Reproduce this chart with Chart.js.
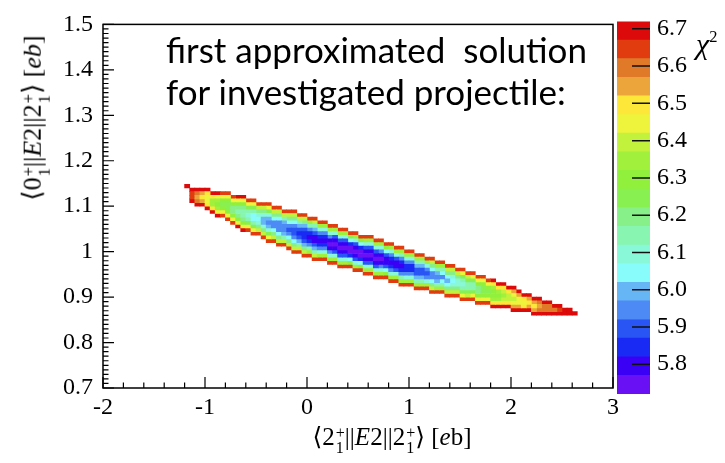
<!DOCTYPE html>
<html>
<head>
<meta charset="utf-8">
<script src="https://cdn.jsdelivr.net/npm/chart.js@4.4.1/dist/chart.umd.min.js"></script>
<style>
  html, body { margin: 0; padding: 0; background: #fff; }
  #wrap { position: relative; width: 725px; height: 463px; overflow: hidden; }
  #main { position: absolute; left: 0; top: 0; }
  #cbar { position: absolute; left: 600px; top: 0; }
  .note { position: absolute; left: 166px; font-family: Lato, 'Open Sans', sans-serif; font-size: 35px; line-height: 1; white-space: pre; color: #000; }
  .math { position: absolute; font-family: 'Liberation Serif', 'DejaVu Serif', serif; font-size: 25px; line-height: 1; white-space: nowrap; color: #000; }
  .ss { display: inline-flex; flex-direction: column; font-size: 0.64em; line-height: 0.95; vertical-align: 0.42em; margin-left: 1px; }
  #ytitle { left: 36px; top: 118px; font-size: 26px; transform: translate(-50%, -50%) rotate(-90deg); }
  #xtitle { left: 392px; top: 440px; transform: translate(-50%, -50%); }
  #zlabel { left: 696px; top: 29px; font-size: 30px; }
  #zlabel sup { font-size: 0.55em; vertical-align: 0.75em; }
</style>
</head>
<body>
<div id="wrap">
  <canvas id="main" width="725" height="463"></canvas>
  <canvas id="cbar" width="125" height="463"></canvas>
  <div class="note" style="top:32px">first approximated  solution</div>
  <div class="note" style="top:74px">for investigated projectile:</div>
  <div class="math" id="ytitle">&#10216;0<span class="ss"><span>+</span><span>1</span></span>||<i>E</i>2||2<span class="ss"><span>+</span><span>1</span></span>&#10217; [<i>eb</i>]</div>
  <div class="math" id="xtitle">&#10216;2<span class="ss"><span>+</span><span>1</span></span>||<i>E</i>2||2<span class="ss"><span>+</span><span>1</span></span>&#10217; [<i>e</i>b]</div>
  <div class="math" id="zlabel"><i>&chi;</i><sup>2</sup></div>
</div>
<script>
// --- chi2 map of the first approximated solution ---

// axes
const xTicks = [-2, -1, 0, 1, 2, 3];
const xTickLabels = ['-2', '-1', '0', '1', '2', '3'];
const yTicks = [0.7, 0.8, 0.9, 1.0, 1.1, 1.2, 1.3, 1.4, 1.5];
const yTickLabels = ['0.7', '0.8', '0.9', '1', '1.1', '1.2', '1.3', '1.4', '1.5'];

// colour scale: 20 bands of chi2
const zLevels = [5.72, 5.77, 5.82, 5.87, 5.92, 5.97, 6.02, 6.07, 6.12, 6.17, 6.22,
                 6.27, 6.32, 6.37, 6.42, 6.47, 6.52, 6.57, 6.62, 6.67, 6.72];
const zTicks = [5.8, 5.9, 6.0, 6.1, 6.2, 6.3, 6.4, 6.5, 6.6, 6.7];
const zTickLabels = ['5.8', '5.9', '6.0', '6.1', '6.2', '6.3', '6.4', '6.5', '6.6', '6.7'];
const bandColors = [
  '#6a10f5', '#3a00f5', '#1a2af5', '#2a55f5', '#4d8af5', '#66b5f5', '#88fbfb',
  '#88f8d8', '#88f5b0', '#88f088', '#88f050', '#90f03c', '#a0f03c', '#c3f23c',
  '#eef33c', '#fde83a', '#eba53a', '#e07a28', '#e03c10', '#dc0a0a'
];

// histogram binning of the map
const binW = 0.05;
const binH = 0.008;
const colFirstX = -1.175;   // centre of the first filled column

// lowest filled y-bin of each column (bin 0 starts at y = 0.7)
const colLowRow = [
  55, 51, 50, 50, 49, 48, 47, 47, 46, 45,
  44, 43, 43, 42, 42, 41, 40, 40, 39, 39,
  38, 37, 37, 36, 36, 35, 35, 35, 34, 34,
  33, 33, 33, 32, 32, 31, 31, 30, 30, 30,
  29, 29, 28, 28, 28, 27, 27, 27, 26, 26,
  26, 25, 25, 25, 24, 24, 24, 23, 23, 23,
  22, 22, 22, 22, 21, 21, 21, 21, 20, 20,
  20, 20, 20, 20, 20, 20, 20
];

// chi2 band of each cell, bottom to top (0-9, a-j = band 0..19)
const colCodes = [
  'j', 'jiij', 'jhghj', 'jgfgj', 'jfeefj', 'jfccfj', 'jecbcej', 'iebabei', 'iebaabei', 'ieb99bei',
  'jeb989bej', 'jeb9889bej', 'iea878aei', 'iea8668aei', 'id97679di', 'id975579di', 'iea75457aei', 'id964469di', 'id9644469di', 'id854458di',
  'id9643469di', 'id96433469di', 'id8532358di', 'id95322359di', 'ic8421248ci', 'id85311358di', 'ic7421247ci', 'ic7421247ci', 'ic7410147ci', 'ic7310137ci',
  'ic7310137ci', 'ic7310137ci', 'ib620026bi', 'ic7310137ci', 'ib620026bi', 'ic7310137ci', 'ic7310137ci', 'ic7310137ci', 'ic7410147ci', 'ib631136bi',
  'ic7421247ci', 'ic731137ci', 'ic8421248ci', 'ic742247ci', 'ic742247ci', 'ic853358ci', 'ic853358ci', 'ic74347ci', 'id964469di', 'ic85458ci',
  'ic86468ci', 'id96569di', 'id97679di', 'id9779di', 'iea878aei', 'ida88adi', 'iea88aei', 'ieb99bei', 'iebaabei', 'iebabei',
  'jfcbbcfj', 'jfcbcfj', 'jfdcdfj', 'jfddfj', 'jgedegj', 'jgeegj', 'jfefj', 'jgfgj', 'jgfgj', 'jhghj',
  'jhhj', 'jhhj', 'jhj', 'jij', 'jj', 'jj', 'j'
];

const serif = "'Liberation Serif', 'DejaVu Serif', serif";

// one bar dataset per colour band, every cell a floating bar
const heatSets = bandColors.map(c => ({
  data: [],
  backgroundColor: c,
  borderWidth: 0,
  stack: 'map',
  categoryPercentage: 1,
  barPercentage: 1
}));
colCodes.forEach((codes, c) => {
  const x = colFirstX + c * binW;
  for (let r = 0; r < codes.length; r++) {
    const lo = yTicks[0] + (colLowRow[c] + r) * binH;
    heatSets[parseInt(codes[r], 36)].data.push({ x: x, y: [lo, lo + binH] });
  }
});

// ROOT style frame with inward ticks
const framePlugin = {
  id: 'frame',
  afterDatasetsDraw(chart) {
    const { ctx, chartArea: a, scales } = chart;
    ctx.save();
    ctx.strokeStyle = '#000';
    ctx.lineWidth = 1.5;
    ctx.strokeRect(a.left, a.top, a.right - a.left, a.bottom - a.top);
    ctx.lineWidth = 1.2;
    ctx.beginPath();
    for (let i = 0; i < yTicks.length; i++) {
      for (let m = 0; m < 10; m++) {
        if (i === yTicks.length - 1 && m > 0) break;
        const py = scales.y.getPixelForValue(yTicks[0] + (i * 10 + m) * 0.01);
        const len = m === 0 ? 11 : 5.5;
        ctx.moveTo(a.left, py);
        ctx.lineTo(a.left + len, py);
      }
    }
    for (let i = 0; i < xTicks.length; i++) {
      for (let m = 0; m < 5; m++) {
        if (i === xTicks.length - 1 && m > 0) break;
        const px = scales.x.getPixelForValue(xTicks[i] + m * 0.2);
        const len = m === 0 ? 11 : 5.5;
        ctx.moveTo(px, a.bottom);
        ctx.lineTo(px, a.bottom - len);
      }
    }
    ctx.stroke();
    ctx.restore();
  }
};

new Chart(document.getElementById('main'), {
  type: 'bar',
  data: { datasets: heatSets },
  options: {
    responsive: false,
    animation: false,
    devicePixelRatio: 1,
    layout: { padding: { left: 0, right: 112, top: 17, bottom: 0 } },
    plugins: { legend: { display: false }, tooltip: { enabled: false } },
    scales: {
      x: {
        type: 'linear', min: -2, max: 3, stacked: true, offset: false,
        grid: { display: false, drawTicks: false }, border: { display: false },
        afterBuildTicks: s => { s.ticks = xTicks.map(v => ({ value: v })); },
        afterFit: s => { s.height = 75; },
        ticks: { padding: 5, color: '#000', font: { family: serif, size: 24 },
                 maxRotation: 0, callback: (v, i) => xTickLabels[i] }
      },
      y: {
        type: 'linear', min: 0.7, max: 1.5, stacked: false,
        grid: { display: false, drawTicks: false }, border: { display: false },
        afterBuildTicks: s => { s.ticks = yTicks.map(v => ({ value: v })); },
        afterFit: s => { s.width = 103; },
        ticks: { padding: 10, color: '#000', font: { family: serif, size: 24 },
                 callback: (v, i) => yTickLabels[i] }
      }
    }
  },
  plugins: [framePlugin]
});

// colour bar with its chi2 scale
const barTickPlugin = {
  id: 'barTicks',
  afterDatasetsDraw(chart) {
    const { ctx, chartArea: a, scales } = chart;
    ctx.save();
    ctx.strokeStyle = '#111';
    ctx.lineWidth = 1.5;
    ctx.beginPath();
    zTicks.forEach(v => {
      const py = scales.y.getPixelForValue(v);
      ctx.moveTo(a.right - 18, py);
      ctx.lineTo(a.right, py);
    });
    ctx.stroke();
    ctx.restore();
  }
};

new Chart(document.getElementById('cbar'), {
  type: 'bar',
  data: {
    labels: ['chi2'],
    datasets: bandColors.map((c, k) => ({
      data: [[zLevels[k], zLevels[k + 1]]],
      backgroundColor: c,
      borderWidth: 0,
      stack: 'bar',
      categoryPercentage: 1,
      barPercentage: 1
    }))
  },
  options: {
    responsive: false,
    animation: false,
    devicePixelRatio: 1,
    layout: { padding: { left: 17, right: 0, top: 18, bottom: 69 } },
    plugins: { legend: { display: false }, tooltip: { enabled: false } },
    scales: {
      x: { display: false, stacked: true },
      y: {
        position: 'right', min: 5.72, max: 6.72, stacked: false,
        grid: { display: false, drawTicks: false }, border: { display: false },
        afterBuildTicks: s => { s.ticks = zTicks.map(v => ({ value: v })); },
        afterFit: s => { s.width = 75; },
        ticks: { padding: 7, color: '#000', font: { family: serif, size: 24 },
                 callback: (v, i) => zTickLabels[i] }
      }
    }
  },
  plugins: [barTickPlugin]
});
</script>
</body>
</html>
